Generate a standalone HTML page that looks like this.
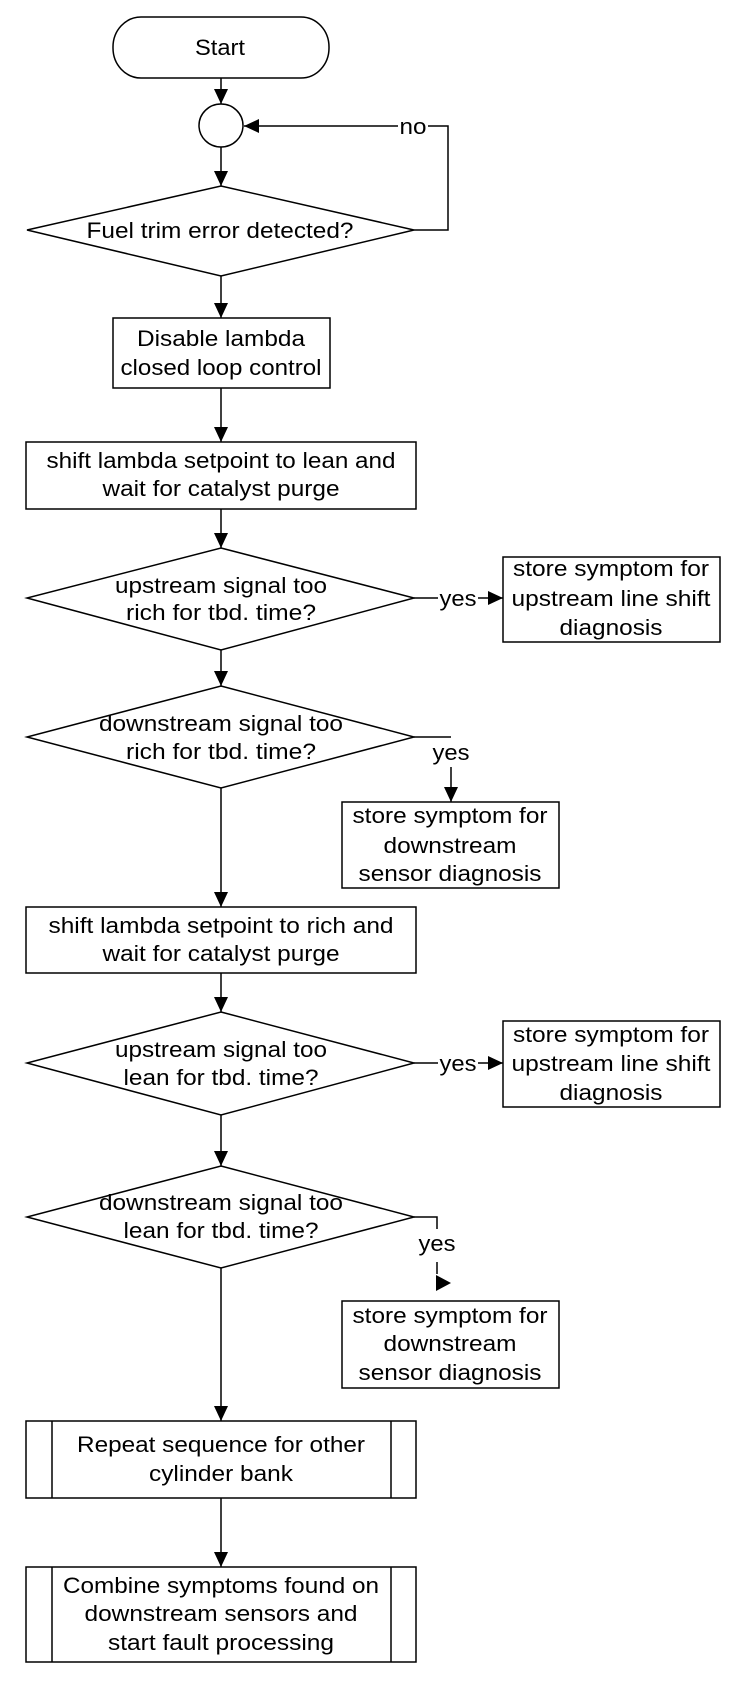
<!DOCTYPE html>
<html><head><meta charset="utf-8"><style>
html,body{margin:0;padding:0;background:#fff;}
svg{display:block;}
text{font-family:"Liberation Sans",Arial,sans-serif;font-size:22px;fill:#000;text-anchor:middle;}
</style></head><body>
<svg width="752" height="1684" viewBox="0 0 752 1684" xmlns="http://www.w3.org/2000/svg">
<defs>
<marker id="a" markerWidth="16" markerHeight="16" refX="15" refY="8" orient="auto" markerUnits="userSpaceOnUse">
<path d="M0,1 L15,8 L0,15 Z" fill="#000"/>
</marker>
</defs>
<g fill="none" stroke="#000" stroke-width="1.5">
<!-- Start -->
<rect x="113" y="17" width="216" height="61" rx="28" ry="30"/>
<line x1="221" y1="78" x2="221" y2="104" marker-end="url(#a)"/>
<ellipse cx="221" cy="125.5" rx="22" ry="21.5"/>
<line x1="221" y1="147" x2="221" y2="186" marker-end="url(#a)"/>
<!-- loop -->
<polyline points="414,230 448,230 448,126 428,126"/>
<line x1="398" y1="126" x2="244" y2="126" marker-end="url(#a)"/>
<!-- diamond 1 -->
<polygon points="221,186 414,230 221,276 27,230"/>
<line x1="221" y1="276" x2="221" y2="318" marker-end="url(#a)"/>
<rect x="113" y="318" width="217" height="70"/>
<line x1="221" y1="388" x2="221" y2="442" marker-end="url(#a)"/>
<rect x="26" y="442" width="390" height="67"/>
<line x1="221" y1="509" x2="221" y2="548" marker-end="url(#a)"/>
<!-- diamond 2 -->
<polygon points="221,548 414,598 221,650 27,598"/>
<line x1="414" y1="598" x2="438" y2="598"/>
<line x1="478" y1="598" x2="503" y2="598" marker-end="url(#a)"/>
<rect x="503" y="557" width="217" height="85"/>
<line x1="221" y1="650" x2="221" y2="686" marker-end="url(#a)"/>
<!-- diamond 3 -->
<polygon points="221,686 414,737 221,788 27,737"/>
<polyline points="414,737 451,737"/>
<line x1="451" y1="767" x2="451" y2="802" marker-end="url(#a)"/>
<rect x="342" y="802" width="217" height="86"/>
<line x1="221" y1="788" x2="221" y2="907" marker-end="url(#a)"/>
<rect x="26" y="907" width="390" height="66"/>
<line x1="221" y1="973" x2="221" y2="1012" marker-end="url(#a)"/>
<!-- diamond 4 -->
<polygon points="221,1012 414,1063 221,1115 27,1063"/>
<line x1="414" y1="1063" x2="438" y2="1063"/>
<line x1="478" y1="1063" x2="503" y2="1063" marker-end="url(#a)"/>
<rect x="503" y="1021" width="217" height="86"/>
<line x1="221" y1="1115" x2="221" y2="1166" marker-end="url(#a)"/>
<!-- diamond 5 -->
<polygon points="221,1166 414,1217 221,1268 27,1217"/>
<polyline points="414,1217 437,1217 437,1229"/>
<line x1="437" y1="1262" x2="437" y2="1274"/>
<rect x="342" y="1301" width="217" height="87"/>
<line x1="221" y1="1268" x2="221" y2="1421" marker-end="url(#a)"/>
<rect x="26" y="1421" width="390" height="77"/>
<line x1="52" y1="1421" x2="52" y2="1498"/>
<line x1="391" y1="1421" x2="391" y2="1498"/>
<line x1="221" y1="1498" x2="221" y2="1567" marker-end="url(#a)"/>
<rect x="26" y="1567" width="390" height="95"/>
<line x1="52" y1="1567" x2="52" y2="1662"/>
<line x1="391" y1="1567" x2="391" y2="1662"/>
</g>
<path d="M436,1275 L451,1283 L436,1291 Z" fill="#000"/>
<g lengthAdjust="spacingAndGlyphs">
<text x="220" y="55" textLength="50" lengthAdjust="spacingAndGlyphs">Start</text>
<text x="413" y="134" textLength="27" lengthAdjust="spacingAndGlyphs">no</text>
<text x="220" y="238" textLength="267" lengthAdjust="spacingAndGlyphs">Fuel trim error detected?</text>
<text x="221" y="346" textLength="168" lengthAdjust="spacingAndGlyphs">Disable lambda</text>
<text x="221" y="375" textLength="201" lengthAdjust="spacingAndGlyphs">closed loop control</text>
<text x="221" y="468" textLength="349" lengthAdjust="spacingAndGlyphs">shift lambda setpoint to lean and</text>
<text x="221" y="496" textLength="237" lengthAdjust="spacingAndGlyphs">wait for catalyst purge</text>
<text x="221" y="593" textLength="212" lengthAdjust="spacingAndGlyphs">upstream signal too</text>
<text x="221" y="620" textLength="190" lengthAdjust="spacingAndGlyphs">rich for tbd. time?</text>
<text x="458" y="606" textLength="37" lengthAdjust="spacingAndGlyphs">yes</text>
<text x="611" y="576" textLength="196" lengthAdjust="spacingAndGlyphs">store symptom for</text>
<text x="611" y="606" textLength="199" lengthAdjust="spacingAndGlyphs">upstream line shift</text>
<text x="611" y="635" textLength="103" lengthAdjust="spacingAndGlyphs">diagnosis</text>
<text x="221" y="731" textLength="244" lengthAdjust="spacingAndGlyphs">downstream signal too</text>
<text x="221" y="759" textLength="190" lengthAdjust="spacingAndGlyphs">rich for tbd. time?</text>
<text x="451" y="760" textLength="37" lengthAdjust="spacingAndGlyphs">yes</text>
<text x="450" y="823" textLength="195" lengthAdjust="spacingAndGlyphs">store symptom for</text>
<text x="450" y="853" textLength="133" lengthAdjust="spacingAndGlyphs">downstream</text>
<text x="450" y="881" textLength="183" lengthAdjust="spacingAndGlyphs">sensor diagnosis</text>
<text x="221" y="933" textLength="345" lengthAdjust="spacingAndGlyphs">shift lambda setpoint to rich and</text>
<text x="221" y="961" textLength="237" lengthAdjust="spacingAndGlyphs">wait for catalyst purge</text>
<text x="221" y="1057" textLength="212" lengthAdjust="spacingAndGlyphs">upstream signal too</text>
<text x="221" y="1085" textLength="195" lengthAdjust="spacingAndGlyphs">lean for tbd. time?</text>
<text x="458" y="1071" textLength="37" lengthAdjust="spacingAndGlyphs">yes</text>
<text x="611" y="1042" textLength="196" lengthAdjust="spacingAndGlyphs">store symptom for</text>
<text x="611" y="1071" textLength="199" lengthAdjust="spacingAndGlyphs">upstream line shift</text>
<text x="611" y="1100" textLength="103" lengthAdjust="spacingAndGlyphs">diagnosis</text>
<text x="221" y="1210" textLength="244" lengthAdjust="spacingAndGlyphs">downstream signal too</text>
<text x="221" y="1238" textLength="195" lengthAdjust="spacingAndGlyphs">lean for tbd. time?</text>
<text x="437" y="1251" textLength="37" lengthAdjust="spacingAndGlyphs">yes</text>
<text x="450" y="1323" textLength="195" lengthAdjust="spacingAndGlyphs">store symptom for</text>
<text x="450" y="1351" textLength="133" lengthAdjust="spacingAndGlyphs">downstream</text>
<text x="450" y="1380" textLength="183" lengthAdjust="spacingAndGlyphs">sensor diagnosis</text>
<text x="221" y="1452" textLength="288" lengthAdjust="spacingAndGlyphs">Repeat sequence for other</text>
<text x="221" y="1481" textLength="144" lengthAdjust="spacingAndGlyphs">cylinder bank</text>
<text x="221" y="1593" textLength="316" lengthAdjust="spacingAndGlyphs">Combine symptoms found on</text>
<text x="221" y="1621" textLength="273" lengthAdjust="spacingAndGlyphs">downstream sensors and</text>
<text x="221" y="1650" textLength="226" lengthAdjust="spacingAndGlyphs">start fault processing</text>
</g>
</svg>
</body></html>
